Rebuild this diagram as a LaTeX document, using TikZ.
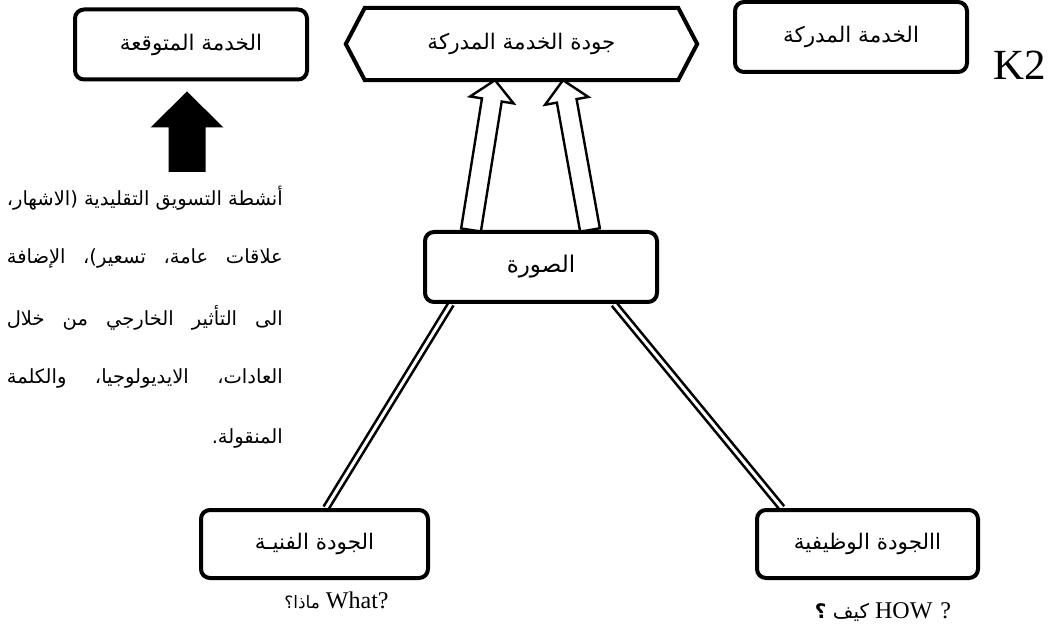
\documentclass[tikz,border=0pt]{standalone}
\usepackage{fontspec}
\usetikzlibrary{calc}
\TeXXeTstate=1
\newfontfamily\arsans[Script=Arabic]{DejaVu Sans}
\newfontfamily\latserif{Liberation Serif}
\pgfdeclarelayer{bg}
\pgfsetlayers{bg,main}

% block arrow: #1 style, #2 tail centre, #3 tip, #4 half shaft width, #5 half head width, #6 head length
\newcommand\blockarrow[6]{%
  \coordinate (ba-h) at ($(#3)!#6!(#2)$);
  \path[#1] ($(#2)!#4!90:(#3)$) -- ($(ba-h)!#4!90:(#3)$) -- ($(ba-h)!#5!90:(#3)$)
    -- (#3) -- ($(ba-h)!#5!-90:(#3)$) -- ($(ba-h)!#4!-90:(#3)$) -- ($(#2)!#4!-90:(#3)$) -- cycle;
}

\tikzset{
  box/.style={draw, fill=white, line width=4pt, rounded corners=9pt, inner sep=0pt,
    minimum width=#1, minimum height=70pt, font=\arsans\fontsize{21.5}{24}\selectfont},
  box/.default=232pt,
  dbl/.style={draw, line width=2.6pt, double=white, double distance=3pt},
  hollow/.style={draw, fill=white, line width=2.4pt, line join=miter},
  solid/.style={fill=black},
  para/.style={inner sep=0pt, font=\arsans\fontsize{19.5}{22}\selectfont},
  caption/.style={inner sep=0pt, font=\latserif\fontsize{24}{26}\selectfont},
}

\begin{document}
\begin{tikzpicture}[x=1pt,y=-1pt]
  \useasboundingbox (0,0) rectangle (1060,628);
  \begin{pgfonlayer}{bg}
    \fill[white] (0,0) rectangle (1060,628);
  \end{pgfonlayer}

  % top row
  \node[box] (exp) at (191,44.5) {\beginR الخدمة المتوقعة\endR};
  \node[inner sep=0pt, minimum width=351pt, minimum height=72pt,
        font=\arsans\fontsize{21.5}{24}\selectfont] (hex) at (521.5,44) {\beginR جودة الخدمة المدركة\endR};
  \begin{pgfonlayer}{bg}
    \draw[line width=4pt, fill=white, line join=miter]
      (hex.west) -- ([xshift=19pt]hex.north west) -- ([xshift=-19pt]hex.north east)
      -- (hex.east) -- ([xshift=-19pt]hex.south east) -- ([xshift=19pt]hex.south west) -- cycle;
  \end{pgfonlayer}
  \node[box] (perc) at (851,37) {\beginR الخدمة المدركة\endR};
  \node[inner sep=0pt, anchor=base west, font=\latserif\fontsize{43}{43}\selectfont] (k2) at (993,80) {K2};

  % middle and bottom boxes
  \node[box, font=\arsans\fontsize{23}{26}\selectfont] (img) at (541,267) {\beginR الصورة\endR};
  \node[box=227pt, minimum height=68pt] (tech) at (314.5,544) {\beginR الجودة الفنيـة\endR};
  \node[box=221pt, minimum height=68pt] (func) at (867.5,544) {\beginR االجودة الوظيفية\endR};

  % captions under the bottom boxes
  \node[caption] (what) at (336.5,600)
    {\beginR?\beginL What\endL{} {\arsans\fontsize{17}{20}\selectfont ماذا؟}\endR};
  \node[caption] (how) at (883,612)
    {\beginR? \beginL HOW\endL{} {\arsans\fontsize{20}{22}\selectfont كيف {\bfseries ؟}}\endR};

  % text block under the black arrow
  \node[para, anchor=east] (p1) at (283,198) {\makebox[276pt][s]{\beginR أنشطة التسويق التقليدية (الاشهار،\endR}};
  \node[para, anchor=east] (p2) at (283,258) {\makebox[276pt][s]{\beginR علاقات عامة، تسعير)، الإضافة\endR}};
  \node[para, anchor=east] (p3) at (283,318) {\makebox[276pt][s]{\beginR الى التأثير الخارجي من خلال\endR}};
  \node[para, anchor=east] (p4) at (283,378) {\makebox[276pt][s]{\beginR العادات، الايديولوجيا، والكلمة\endR}};
  \node[para, anchor=east] (p5) at (283,438) {\beginR المنقولة.\endR};

  % connectors
  \begin{pgfonlayer}{bg}
    \draw[dbl] ([xshift=-90pt]img.south) -- ([xshift=11.5pt]tech.north);
    \draw[dbl] ([xshift=73pt]img.south) -- ([xshift=-85.5pt]func.north);
    \coordinate (a1from) at ([xshift=-70pt]img.north);
    \coordinate (a1to) at ([xshift=-26.5pt]hex.south);
    \coordinate (a2from) at ([xshift=49pt]img.north);
    \coordinate (a2to) at ([xshift=41.5pt]hex.south);
    \blockarrow{hollow}{a1from}{a1to}{10pt}{22pt}{20pt}
    \blockarrow{hollow}{a2from}{a2to}{10pt}{22pt}{21pt}
  \end{pgfonlayer}

  % black arrow pointing at the expected-service box
  \coordinate (bfrom) at (187,172);
  \coordinate (bto) at ([xshift=-4pt,yshift=-10pt]exp.south);
  \blockarrow{solid}{bfrom}{bto}{18.5pt}{36.5pt}{36pt}
\end{tikzpicture}
\end{document}
